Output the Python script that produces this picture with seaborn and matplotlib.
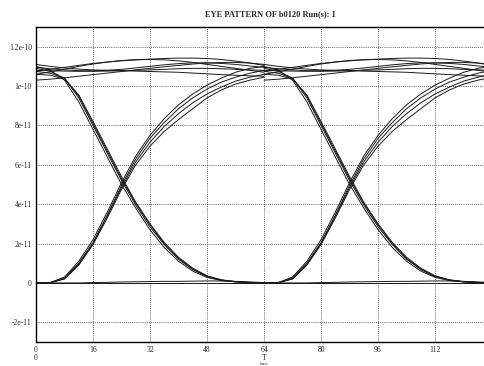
import matplotlib
matplotlib.use("Agg")
import matplotlib.pyplot as plt
import matplotlib.transforms as mtransforms
import numpy as np
import pandas as pd
import seaborn as sns

# time samples over one bit period (pattern repeats every 64 units)
t_period = [0, 4, 8, 12, 16, 20, 24, 28, 32, 36, 40, 44, 48, 52, 56, 60, 64]
period_offsets = [0, 64]

# values in units of 1e-11
fall_1 = [11.0, 10.8, 10.3, 9.2, 7.8, 6.4, 5.0, 3.8, 2.7, 1.8, 1.1, 0.6, 0.28, 0.12, 0.05, 0.02, 0.0]
fall_2 = [10.9, 10.75, 10.4, 9.4, 8.0, 6.6, 5.2, 3.95, 2.85, 1.95, 1.2, 0.68, 0.32, 0.14, 0.06, 0.02, 0.0]
fall_3 = [10.75, 10.65, 10.4, 9.5, 8.1, 6.7, 5.3, 4.05, 2.95, 2.0, 1.25, 0.7, 0.34, 0.15, 0.06, 0.02, 0.0]
fall_4 = [10.6, 10.55, 10.35, 9.55, 8.2, 6.8, 5.4, 4.1, 3.0, 2.05, 1.3, 0.75, 0.36, 0.16, 0.07, 0.03, 0.0]

rise_1 = [0.0, 0.02, 0.3, 1.1, 2.2, 3.6, 5.1, 6.45, 7.5, 8.35, 9.05, 9.6, 10.05, 10.4, 10.7, 10.9, 11.0]
rise_2 = [0.0, 0.02, 0.25, 1.0, 2.05, 3.45, 4.95, 6.3, 7.35, 8.15, 8.85, 9.4, 9.85, 10.2, 10.45, 10.65, 10.8]
rise_3 = [0.0, 0.01, 0.22, 0.95, 2.0, 3.4, 4.85, 6.15, 7.15, 7.95, 8.6, 9.15, 9.6, 9.95, 10.25, 10.45, 10.6]
rise_4 = [0.0, 0.01, 0.2, 0.9, 1.95, 3.3, 4.75, 6.0, 6.95, 7.7, 8.3, 8.85, 9.4, 9.8, 10.1, 10.3, 10.45]

high_1 = [10.75, 10.85, 10.95, 11.05, 11.15, 11.22, 11.28, 11.33, 11.37, 11.4, 11.42, 11.42, 11.4, 11.35, 11.27, 11.17, 11.05]
high_2 = [10.3, 10.35, 10.42, 10.5, 10.58, 10.66, 10.74, 10.82, 10.9, 10.98, 11.05, 11.12, 11.17, 11.2, 11.2, 11.17, 11.1]
high_3 = [10.8, 10.78, 10.76, 10.75, 10.75, 10.76, 10.78, 10.8, 10.82, 10.85, 10.88, 10.9, 10.9, 10.88, 10.85, 10.82, 10.8]
high_4 = [10.95, 10.88, 10.82, 10.78, 10.78, 10.8, 10.85, 10.92, 11.0, 11.08, 11.14, 11.18, 11.18, 11.15, 11.1, 11.02, 10.95]
high_5 = [11.1, 11.0, 10.92, 10.86, 10.82, 10.8, 10.78, 10.76, 10.74, 10.72, 10.7, 10.66, 10.62, 10.58, 10.55, 10.52, 10.5]
high_6 = [10.6, 10.72, 10.85, 11.0, 11.12, 11.22, 11.3, 11.34, 11.35, 11.33, 11.28, 11.2, 11.1, 11.0, 10.9, 10.8, 10.7]

low_1 = [0.0] * 17
low_2 = [0.0, 0.0, 0.0, 0.0, 0.02, 0.03, 0.05, 0.06, 0.07, 0.08, 0.08, 0.09, 0.1, 0.1, 0.08, 0.05, 0.02]

traces = {
    "fall_1": fall_1, "fall_2": fall_2, "fall_3": fall_3, "fall_4": fall_4,
    "rise_1": rise_1, "rise_2": rise_2, "rise_3": rise_3, "rise_4": rise_4,
    "high_1": high_1, "high_2": high_2, "high_3": high_3,
    "high_4": high_4, "high_5": high_5, "high_6": high_6,
    "low_1": low_1, "low_2": low_2,
}

y_ticks = [-2e-11, 0, 2e-11, 4e-11, 6e-11, 8e-11, 1e-10, 1.2e-10]
y_tick_labels = ["-2e-11", "0", "2e-11", "4e-11", "6e-11", "8e-11", "1e-10", "1.2e-10"]
x_ticks = [0, 16, 32, 48, 64, 80, 96, 112]
x_tick_labels = ["0", "16", "32", "48", "64", "80", "96", "112"]
title_text = "EYE PATTERN OF b0120 Run(s): 1"

rows = []
for off in period_offsets:
    for name, vals in traces.items():
        for tt, vv in zip(t_period, vals):
            rows.append({"t": tt + off, "v": vv * 1e-11, "trace": f"{name}_{off}"})
df = pd.DataFrame(rows)

sns.set_style("white")
plt.rcParams["font.family"] = ["Liberation Serif", "DejaVu Serif"]

fig = plt.figure(figsize=(4.85, 3.66), dpi=100)
ax = fig.add_axes([36 / 485, 1 - 342 / 366, 449 / 485, 315 / 366])

sns.lineplot(data=df, x="t", y="v", units="trace", estimator=None,
             color="#1a1a1a", linewidth=0.7, ax=ax, legend=False, sort=False)

ax.set_xlim(0, 126)
ax.set_ylim(-3e-11, 1.3e-10)
ax.set_xticks(x_ticks)
ax.set_xticklabels(x_tick_labels, fontsize=5.5)
ax.set_yticks(y_ticks)
ax.set_yticklabels(y_tick_labels, fontsize=5.5)
ax.tick_params(axis="both", length=0, pad=3)
ax.set_xlabel("")
ax.set_ylabel("")
ax.grid(True, linestyle=(0, (1, 1.5)), color="#333333", linewidth=0.6)
ax.set_axisbelow(True)
for side in ["left", "bottom", "top"]:
    ax.spines[side].set_color("black")
    ax.spines[side].set_linewidth(1.0)
ax.spines["right"].set_visible(False)

trans = mtransforms.blended_transform_factory(ax.transData, fig.transFigure)
ax.text(0, 1 - 357.5 / 366, "0", transform=trans, ha="center", va="center", fontsize=5.5)
ax.text(64, 1 - 358 / 366, "T", transform=trans, ha="center", va="center", fontsize=5.5)
ax.text(64, 1 - 364 / 366, "time", transform=trans, ha="center", va="center", fontsize=3.5)

fig.text(270 / 485, 1 - 14 / 366, title_text, ha="center", va="center",
         fontsize=6, fontweight="bold")

fig.savefig("out.png", dpi=100)
